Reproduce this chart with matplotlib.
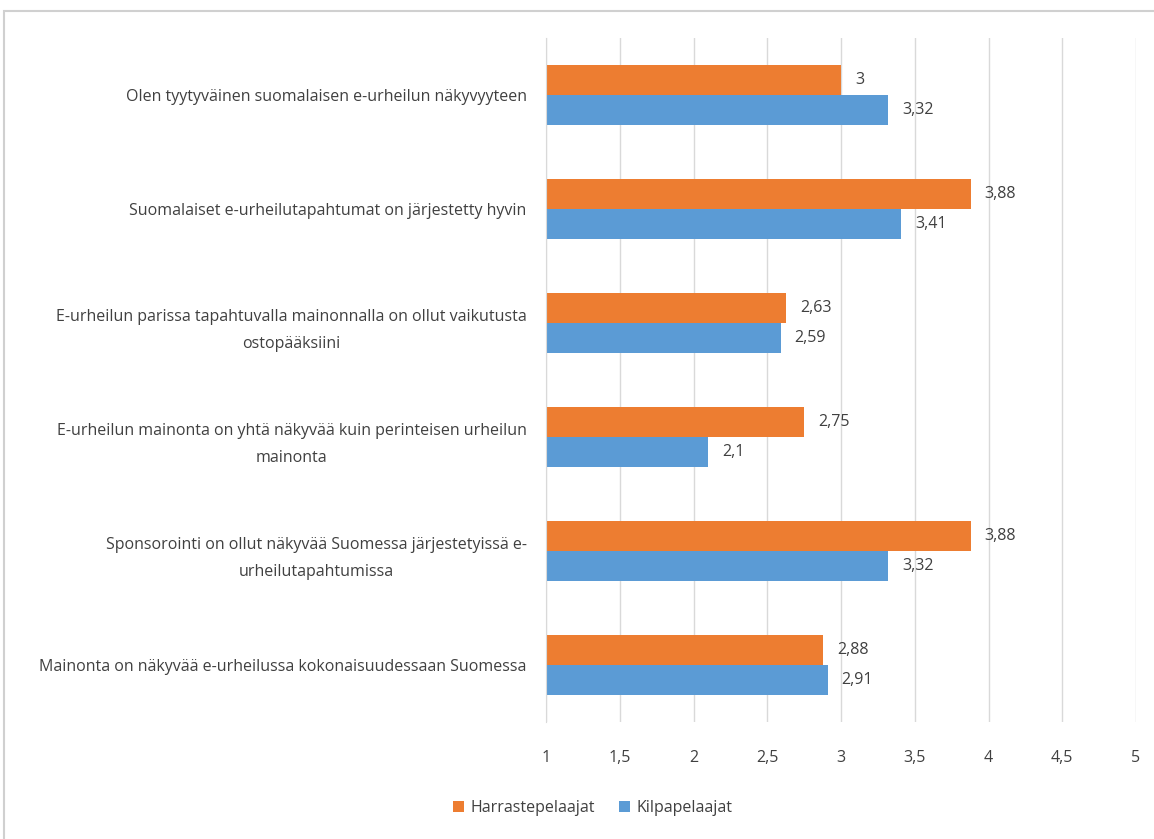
import matplotlib
matplotlib.use("Agg")
import matplotlib.pyplot as plt
import numpy as np
from matplotlib.patches import Rectangle

# Data
categories = [
    "Olen tyytyväinen suomalaisen e-urheilun näkyvyyteen",
    "Suomalaiset e-urheilutapahtumat on järjestetty hyvin",
    "E-urheilun parissa tapahtuvalla mainonnalla on ollut vaikutusta\nostopääksiini",
    "E-urheilun mainonta on yhtä näkyvää kuin perinteisen urheilun\nmainonta",
    "Sponsorointi on ollut näkyvää Suomessa järjestetyissä e-\nurheilutapahtumissa",
    "Mainonta on näkyvää e-urheilussa kokonaisuudessaan Suomessa",
]
harraste = [3.0, 3.88, 2.63, 2.75, 3.88, 2.88]
kilpa = [3.32, 3.41, 2.59, 2.1, 3.32, 2.91]
ticks = [1, 1.5, 2, 2.5, 3, 3.5, 4, 4.5, 5]

orange = "#ED7D31"
blue = "#5B9BD5"
txt = "#404040"

plt.rcParams['font.family'] = ['Open Sans', 'DejaVu Sans']

fig = plt.figure(figsize=(11.54, 8.39), dpi=100)
ax = fig.add_axes([546 / 1154, 1 - 722 / 839, 590 / 1154, 684 / 839])

y = np.arange(len(categories))
h = 0.263
b1 = ax.barh(y - h / 2, harraste, height=h, color=orange, label="Harrastepelaajat", zorder=3)
b2 = ax.barh(y + h / 2, kilpa, height=h, color=blue, label="Kilpapelaajat", zorder=3)

def fmt(v):
    s = ("%.2f" % v).rstrip("0").rstrip(".")
    return s.replace(".", ",")

for bars, vals in [(b1, harraste), (b2, kilpa)]:
    for r, v in zip(bars, vals):
        ax.annotate(fmt(v), (v, r.get_y() + r.get_height() / 2), xytext=(10, 0),
                    textcoords="offset points", va="center", ha="left",
                    fontsize=11.5, color=txt)

ax.set_xlim(1, 5)
ax.set_ylim(len(categories) - 0.5, -0.5)
ax.set_xticks(ticks)
ax.set_xticklabels([fmt(t) for t in ticks], fontsize=11.5, color=txt)
ax.set_yticks(y)
ax.set_yticklabels(categories, fontsize=11.5, color=txt, multialignment="center",
                   linespacing=1.9)
ax.tick_params(axis="both", length=0)
ax.tick_params(axis="x", pad=20)
ax.tick_params(axis="y", pad=14)
ax.grid(axis="x", color="#D9D9D9", linewidth=1, zorder=0)
for s in ["top", "right", "bottom"]:
    ax.spines[s].set_visible(False)
ax.spines["left"].set_color("#D9D9D9")
ax.spines["left"].set_zorder(4)

fig.legend(handles=[b1, b2], loc="center", bbox_to_anchor=(593 / 1154, 1 - 808 / 839),
           ncol=2, frameon=False, fontsize=11.5, handlelength=0.7, handleheight=0.7,
           columnspacing=1.5, handletextpad=0.4, labelcolor=txt)

fig.patches.append(Rectangle((4 / 1154, -0.1), 1.2, 1.1 - 11 / 839, transform=fig.transFigure,
                             fill=False, edgecolor="#D0D0D0", linewidth=1.5))

fig.savefig("out.png", dpi=100)
